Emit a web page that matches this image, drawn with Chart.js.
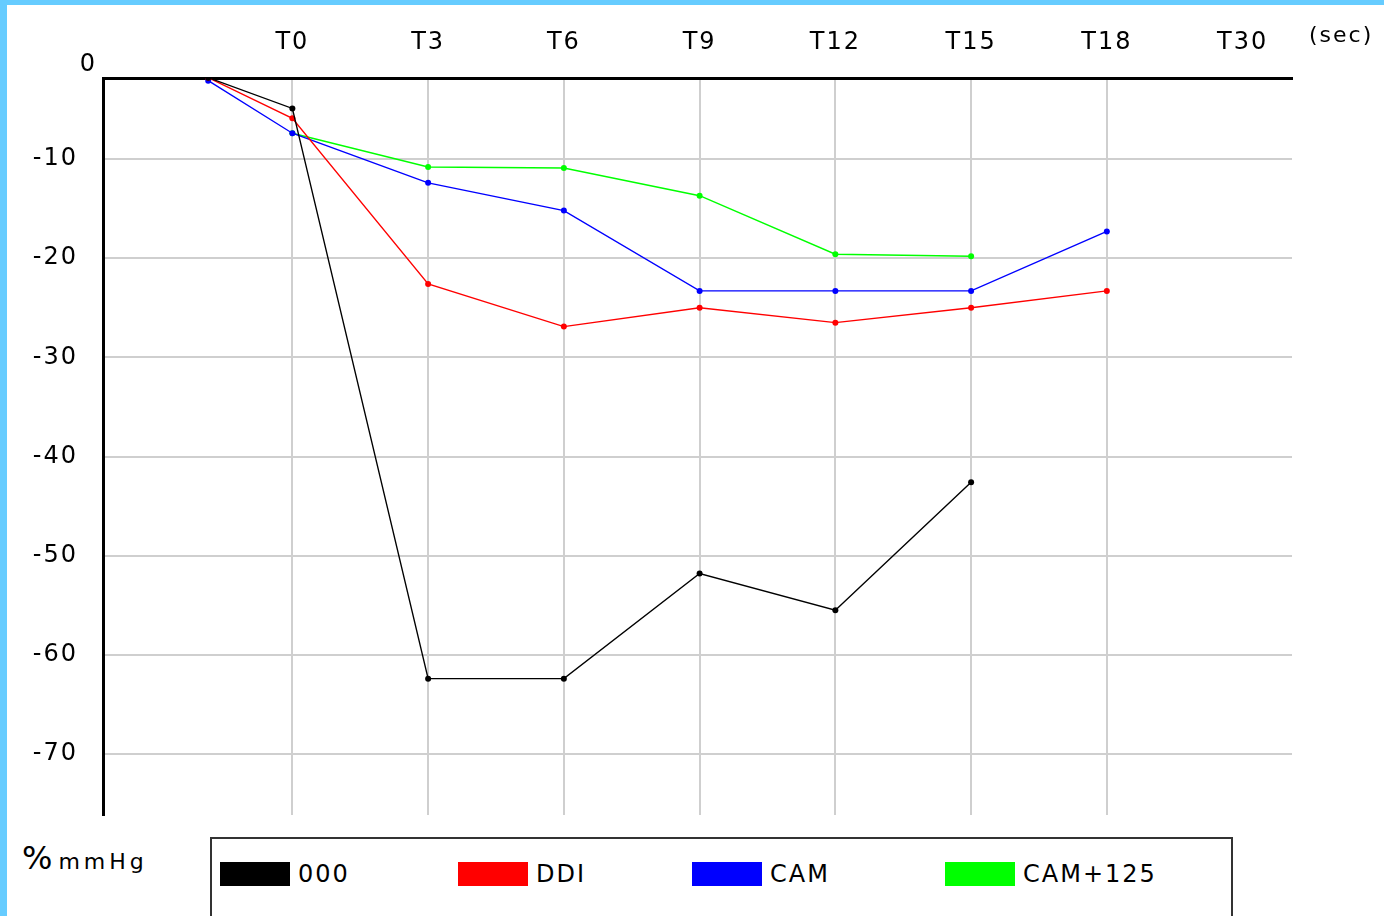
<!DOCTYPE html>
<html><head><meta charset="utf-8">
<script src="https://cdn.jsdelivr.net/npm/chart.js@4.4.1/dist/chart.umd.min.js"></script>
<style>
html,body{margin:0;padding:0;background:#fff;}
body{width:1384px;height:916px;overflow:hidden;position:relative;font-family:"DejaVu Sans",sans-serif;color:#000;}
#frame{position:absolute;left:0;top:0;width:1384px;height:916px;box-sizing:border-box;border-left:7px solid #66ccff;border-top:5px solid #66ccff;}
#wrap{position:absolute;left:7px;top:5px;width:1377px;height:820px;}
#unit{position:absolute;left:22px;top:839px;white-space:nowrap;}
#unit .pc{font-size:32px;}
#unit .mm{font-size:22px;letter-spacing:4px;margin-left:6px;}
#legend{position:absolute;left:210px;top:837px;width:1023px;height:110px;border:2px solid #333;box-sizing:border-box;}
.item{position:absolute;top:23px;display:flex;align-items:center;height:24px;}
.sw{width:70px;height:24px;}
.lab{margin-left:8px;font-size:24px;letter-spacing:2px;}
</style>
</head><body>
<div id="frame"></div>
<div id="wrap"><canvas id="c"></canvas></div>
<div id="unit"><span class="pc">%</span><span class="mm">mmHg</span></div>
<div id="legend"></div>
<script>
// ---- data ----
const xLabels = ['T0','T3','T6','T9','T12','T15','T18','T30'];
const baselineX = -0.62; // baseline reading, before T0
const yTicks = [-10,-20,-30,-40,-50,-60,-70];
const seriesNames = ['000','DDI','CAM','CAM+125'];
// values: [baseline, T0, T3, T6, T9, T12, T15, T18]
const s000    = [-1.8, -4.9, -62.4, -62.4, -51.8, -55.5, -42.6, null];
const sDDI    = [-1.8, -5.9, -22.6, -26.9, -25.0, -26.5, -25.0, -23.3];
const sCAM    = [-2.1, -7.4, -12.4, -15.2, -23.3, -23.3, -23.3, -17.3];
const sCAM125 = [null, -7.4, -10.8, -10.9, -13.7, -19.6, -19.8, null];
const seriesColors = ['#000000','#ff0000','#0000ff','#00ff00'];

function toPoints(arr){
  const out=[];
  arr.forEach((v,i)=>{ if(v!==null) out.push({x: i===0 ? baselineX : i-1, y: v}); });
  return out;
}
const allSeries=[s000,sDDI,sCAM,sCAM125];

const spacing = {
  id:'spacing',
  beforeUpdate(chart){ chart.ctx.letterSpacing='2px'; },
  beforeDraw(chart){ chart.ctx.letterSpacing='2px'; }
};
const extraText = {
  id:'extraText',
  afterDraw(chart){
    const ctx=chart.ctx, ys=chart.scales.y;
    ctx.save();
    ctx.fillStyle='#000';
    ctx.font='24px "DejaVu Sans"';
    ctx.textAlign='right'; ctx.textBaseline='middle';
    ctx.fillText('0', ys.right-6, 60);
    ctx.font='22px "DejaVu Sans"';
    ctx.textAlign='left';
    ctx.fillText('(sec)', 1302, 31);
    ctx.restore();
  }
};

new Chart(document.getElementById('c'), {
  type:'line',
  data:{
    datasets: allSeries.map((s,k)=>({
      label: seriesNames[k],
      data: toPoints(s),
      borderColor: seriesColors[k],
      backgroundColor: seriesColors[k],
      pointBackgroundColor: seriesColors[k],
      pointBorderWidth:0,
      pointRadius:3,
      borderWidth:1.4,
      tension:0,
      spanGaps:true
    }))
  },
  options:{
    responsive:true, maintainAspectRatio:false, animation:false,
    layout:{padding:{left:0,top:0,right:92,bottom:10}},
    plugins:{legend:{display:false}, tooltip:{enabled:false}},
    scales:{
      x:{
        type:'linear', position:'top', min:-1.395, max:7.364,
        afterBuildTicks(sc){ sc.ticks = xLabels.map((l,i)=>({value:i})); },
        afterFit(sc){ sc.height = 73; sc.paddingLeft=0; sc.paddingRight=0; },
        ticks:{ callback:(v)=>xLabels[v], color:'#000', font:{family:'DejaVu Sans', size:24}, padding:21, maxRotation:0, autoSkip:false },
        grid:{ drawTicks:false, lineWidth:2, color:(c)=> (c.tick && c.tick.value===7) ? 'rgba(0,0,0,0)' : '#cfcfcf' },
        border:{ display:true, color:'#000', width:3 }
      },
      y:{
        type:'linear', min:-76.15, max:-1.83,
        afterBuildTicks(sc){ sc.ticks = yTicks.map(v=>({value:v})); },
        afterFit(sc){ sc.width = 96; sc.paddingTop=0; sc.paddingBottom=0; },
        ticks:{ callback:(v)=>String(v), color:'#000', font:{family:'DejaVu Sans', size:24}, padding:25 },
        grid:{ drawTicks:false, lineWidth:2, color:'#cfcfcf' },
        border:{ display:true, color:'#000', width:3 }
      }
    }
  },
  plugins:[spacing, extraText]
});

// legend built from the series names/colours
const legendLeft=[8,246,480,733];
const lg=document.getElementById('legend');
seriesNames.forEach((n,k)=>{
  const d=document.createElement('div'); d.className='item'; d.style.left=legendLeft[k]+'px';
  const sw=document.createElement('div'); sw.className='sw'; sw.style.background=seriesColors[k];
  const t=document.createElement('span'); t.className='lab'; t.textContent=n;
  d.appendChild(sw); d.appendChild(t); lg.appendChild(d);
});
</script>
</body></html>
